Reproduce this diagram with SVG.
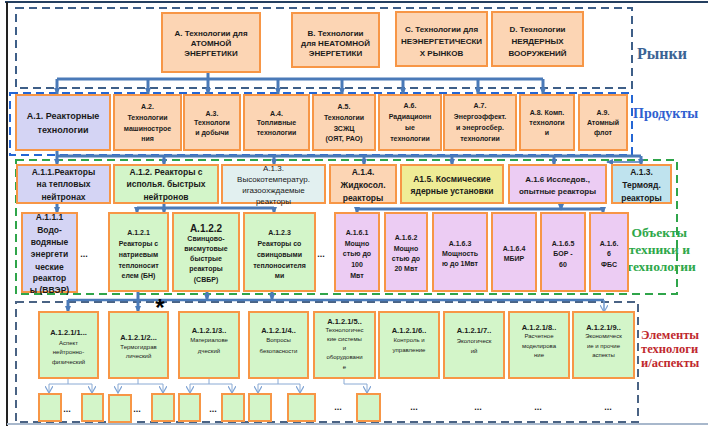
<svg xmlns="http://www.w3.org/2000/svg" width="708" height="426" viewBox="0 0 708 426">
  <defs>
    <marker id="ah" viewBox="0 0 8 7" refX="7" refY="3.5" markerWidth="7" markerHeight="6" markerUnits="userSpaceOnUse" orient="auto">
      <path d="M0,0 L8,3.5 L0,7 Z" fill="#4a7ab8"/>
    </marker>
    <marker id="av" viewBox="0 0 8 8" refX="7" refY="4" markerWidth="8" markerHeight="8" markerUnits="userSpaceOnUse" orient="auto">
      <path d="M0,0 L7,4 L0,8" fill="none" stroke="#7fa3d3" stroke-width="1.2"/>
    </marker>
  </defs>
  <style>
    .bx{stroke:#f79646;stroke-width:2}
    .pe{fill:#fcd5b4}.lv{fill:#d4d4f4}.gr{fill:#d3f5c9}.mi{fill:#e2f0f0}
    .ye{fill:#efec96}.pk{fill:#ecccf3}.lb{fill:#bfe3ee}
    .zone{fill:none;stroke-width:2;stroke-dasharray:8 5}
    text{font-family:"Liberation Sans",Arial,sans-serif;fill:#1a1a1a;text-anchor:middle}
    .b8{font-size:8px;font-weight:bold}
    .b85{font-size:8.5px;font-weight:bold}
    .b9{font-size:9px;font-weight:bold}
    .b7{font-size:7px;font-weight:bold}
    .b75{font-size:7.5px;font-weight:bold}
    .b10{font-size:10px;font-weight:bold}
    .r8{font-size:8px}
    .r6{font-size:6px}
    .dots{font-size:9px;font-weight:bold}
    .lbl{font-family:"Liberation Serif","Times New Roman",serif;font-weight:bold}
    .cn path{fill:none;stroke:#4a7ab8;stroke-width:3}
    .cn path.tip{marker-end:url(#ah)}
    .thin path{fill:none;stroke:#8aaad4;stroke-width:1}
    .thin path.tip{marker-end:url(#av)}
  </style>

  <!-- page frame -->
  <path d="M5 2 H708" stroke="#243f60" stroke-width="2"/>
  <path d="M7 2 V426" stroke="#222" stroke-width="2"/>
  <path d="M7 424 H708" stroke="#a8b8cc" stroke-width="2"/>

  <!-- level zones -->
  <rect class="zone" x="16" y="8" width="616" height="80" stroke="#3e5f88"/>
  <rect class="zone" x="10" y="93" width="622" height="62" stroke="#2466d4"/>
  <rect class="zone" x="16" y="160" width="661" height="134" stroke="#2fa54a"/>
  <rect class="zone" x="16" y="302" width="622" height="120" stroke="#4a6384"/>

  <!-- level captions -->
  <text class="lbl" x="637" y="59" font-size="16" fill="#3a6394" style="text-anchor:start;fill:#3a6394">Рынки</text>
  <text class="lbl" x="633" y="118" font-size="14" style="text-anchor:start;fill:#2f5fd0">Продукты</text>
  <text class="lbl" font-size="13.5" style="fill:#2ea84a">
    <tspan x="661" y="237">Объекты</tspan>
    <tspan x="661" y="254">техники и</tspan>
    <tspan x="661" y="271">технологии</tspan>
  </text>
  <text class="lbl" font-size="12.5" style="text-anchor:start;fill:#c0282d">
    <tspan x="641" y="339">Элементы</tspan>
    <tspan x="641" y="353">технологи</tspan>
    <tspan x="641" y="367">и/аспекты</tspan>
  </text>

  <!-- connectors -->
  <g id="connectors">
    <g class="cn">
      <path d="M57 79 H543"/>
      <path class="tip" d="M57 79 V94"/>
      <path class="tip" d="M148 79 V94"/>
      <path class="tip" d="M208 72 V94"/>
      <path class="tip" d="M278 79 V94"/>
      <path class="tip" d="M342 79 V94"/>
      <path class="tip" d="M403 79 V94"/>
      <path class="tip" d="M478 79 V94"/>
      <path class="tip" d="M543 79 V94"/>

      <path d="M57 156 H641"/>
      <path class="tip" d="M57 150 V165"/>
      <path class="tip" d="M164 156 V165"/>
      <path class="tip" d="M274 156 V165"/>
      <path class="tip" d="M364 156 V165"/>
      <path class="tip" d="M452 156 V165"/>
      <path class="tip" d="M554 156 V165"/>
      <path class="tip" d="M641 156 V165"/>
      <path class="tip" d="M641 162 H607" style="stroke-width:1.5"/>

      <path class="tip" d="M57 203 V213"/>
      <path d="M137 208 H274 M164 203 V208"/>
      <path class="tip" d="M137 208 V213"/>
      <path class="tip" d="M164 208 V213"/>
      <path class="tip" d="M274 208 V213"/>
      <path d="M357 209 H603"/>
      <path class="tip" d="M561 203 V210"/>
      <path class="tip" d="M357 209 V213"/>
      <path class="tip" d="M603 209 V213"/>

      <path d="M68 300 H604" style="stroke-width:2.5"/>
      <path class="tip" d="M138 291 V312"/>
      <path class="tip" d="M207 291 V300"/>
      <path class="tip" d="M272 291 V300"/>
      <path class="tip" d="M68 300 V312"/>
    </g>
    <g class="thin">
      <path class="tip" d="M604 300 V312" style="stroke:#6f98cf;stroke-width:1.5"/>
      <path d="M68 378 V384 M49 384 H92"/>
      <path class="tip" d="M49 384 V393"/>
      <path class="tip" d="M92 384 V393"/>
      <path d="M138 378 V384 M118 384 H163"/>
      <path class="tip" d="M118 384 V393"/>
      <path class="tip" d="M163 384 V393"/>
      <path d="M209 378 V384 M190 384 H232"/>
      <path class="tip" d="M190 384 V393"/>
      <path class="tip" d="M232 384 V393"/>
      <path d="M278 378 V384 M258 384 H300"/>
      <path class="tip" d="M258 384 V393"/>
      <path class="tip" d="M300 384 V393"/>
      <path d="M344 378 V384 H367"/>
      <path class="tip" d="M367 384 V393"/>
    </g>
  </g>

  <!-- markets -->
  <g id="mA"><rect class="bx pe" x="162" y="13" width="98" height="59"/>
    <text class="b8"><tspan x="211" y="36">А. Технологии для</tspan><tspan x="211" y="46">АТОМНОЙ</tspan><tspan x="211" y="56">ЭНЕРГЕТИКИ</tspan></text></g>
  <g id="mB"><rect class="bx pe" x="292" y="13" width="87" height="54"/>
    <text class="b8"><tspan x="335.5" y="36">В. Технологии</tspan><tspan x="335.5" y="46">для НЕАТОМНОЙ</tspan><tspan x="335.5" y="56">ЭНЕРГЕТИКИ</tspan></text></g>
  <g id="mC"><rect class="bx pe" x="396" y="12" width="91" height="54"/>
    <text class="b8"><tspan x="441.5" y="32">С. Технологии для</tspan><tspan x="441.5" y="44">НЕЭНЕРГЕТИЧЕСКИ</tspan><tspan x="441.5" y="56">Х РЫНКОВ</tspan></text></g>
  <g id="mD"><rect class="bx pe" x="492" y="12" width="91" height="54"/>
    <text class="b8"><tspan x="537.5" y="32">D. Технологии</tspan><tspan x="537.5" y="44">НЕЯДЕРНЫХ</tspan><tspan x="537.5" y="56">ВООРУЖЕНИЙ</tspan></text></g>

  <!-- products -->
  <g id="pA1"><rect class="bx lv" x="16" y="95" width="94" height="55"/>
    <text class="b9"><tspan x="63" y="119">А.1. Реакторные</tspan><tspan x="63" y="133">технологии</tspan></text></g>
  <g id="pA2"><rect class="bx pe" x="114" y="95" width="67" height="55"/>
    <text class="b7"><tspan x="147.5" y="108.5">А.2.</tspan><tspan x="147.5" y="119.5">Технологии</tspan><tspan x="147.5" y="130.5">машиностроe</tspan><tspan x="147.5" y="140.5">ния</tspan></text></g>
  <g id="pA3"><rect class="bx pe" x="184" y="95" width="56" height="55"/>
    <text class="b7"><tspan x="212" y="115.5">А.3.</tspan><tspan x="212" y="125">Технологи</tspan><tspan x="212" y="134.5">и добычи</tspan></text></g>
  <g id="pA4"><rect class="bx pe" x="244" y="95" width="65" height="55"/>
    <text class="b7"><tspan x="276.5" y="115.5">А.4.</tspan><tspan x="276.5" y="125">Топливные</tspan><tspan x="276.5" y="134.5">технологии</tspan></text></g>
  <g id="pA5"><rect class="bx pe" x="313" y="95" width="62" height="55"/>
    <text class="b7"><tspan x="344" y="108.5">А.5.</tspan><tspan x="344" y="119.5">Технологии</tspan><tspan x="344" y="130.5">ЗСЖЦ</tspan><tspan x="344" y="140.5">(ОЯТ, РАО)</tspan></text></g>
  <g id="pA6"><rect class="bx pe" x="379" y="95" width="62" height="55"/>
    <text class="b7"><tspan x="410" y="107.5">А.6.</tspan><tspan x="410" y="118.5">Радиационн</tspan><tspan x="410" y="129.5">ые</tspan><tspan x="410" y="140.5">технологии</tspan></text></g>
  <g id="pA7"><rect class="bx pe" x="444" y="95" width="72" height="55"/>
    <text class="b7"><tspan x="480" y="107.5">А.7.</tspan><tspan x="480" y="118.5">Энергоэффект.</tspan><tspan x="480" y="129.5">и энергосбер.</tspan><tspan x="480" y="140.5">технологии</tspan></text></g>
  <g id="pA8"><rect class="bx pe" x="520" y="95" width="54" height="55"/>
    <text class="b7"><tspan x="547" y="114.5">А.8. Комп.</tspan><tspan x="547" y="124.5">технологи</tspan><tspan x="547" y="134.5">и</tspan></text></g>
  <g id="pA9"><rect class="bx pe" x="579" y="95" width="48" height="55"/>
    <text class="b7"><tspan x="603" y="114.5">А.9.</tspan><tspan x="603" y="124.5">Атомный</tspan><tspan x="603" y="134.5">флот</tspan></text></g>

  <!-- reactor directions -->
  <g id="oA11"><rect class="bx lv" x="17" y="165" width="93" height="38"/>
    <text class="b85"><tspan x="63.5" y="175">А.1.1.Реакторы</tspan><tspan x="63.5" y="187">на тепловых</tspan><tspan x="63.5" y="200">нейтронах</tspan></text></g>
  <g id="oA12"><rect class="bx gr" x="114" y="165" width="104" height="38"/>
    <text class="b85"><tspan x="166" y="175">А.1.2. Реакторы с</tspan><tspan x="166" y="187">исполья. быстрых</tspan><tspan x="166" y="200">нейтронов</tspan></text></g>
  <g id="oA13"><rect class="bx mi" x="222" y="165" width="103" height="38"/>
    <text class="r8"><tspan x="273.5" y="170.5">А.1.3.</tspan><tspan x="273.5" y="182">Высокотемператур.</tspan><tspan x="273.5" y="192.5">игазоохждаемые</tspan><tspan x="273.5" y="204">реакторы</tspan></text></g>
  <g id="oA14"><rect class="bx pe" x="330" y="165" width="66" height="38"/>
    <text class="b85"><tspan x="363" y="175">А.1.4.</tspan><tspan x="363" y="188">Жидкосол.</tspan><tspan x="363" y="201">реакторы</tspan></text></g>
  <g id="oA15"><rect class="bx ye" x="401" y="165" width="102" height="38"/>
    <text class="b85"><tspan x="452" y="182">А1.5. Космические</tspan><tspan x="452" y="194">ядерные установки</tspan></text></g>
  <g id="oA16"><rect class="bx pk" x="509" y="165" width="97" height="38"/>
    <text class="b8"><tspan x="557.5" y="182">А.1.6 Исследов.,</tspan><tspan x="557.5" y="194">опытные реакторы</tspan></text></g>
  <g id="oA13t"><rect class="bx lb" x="612" y="165" width="59" height="38"/>
    <text class="b85"><tspan x="641.5" y="175">А.1.3.</tspan><tspan x="641.5" y="188">Термояд.</tspan><tspan x="641.5" y="201">реакторы</tspan></text></g>

  <!-- reactor types -->
  <g id="oA111"><rect class="bx lv" x="22" y="213" width="55" height="79"/>
    <text class="b85"><tspan x="49.5" y="220">А.1.1.1</tspan><tspan x="49.5" y="233">Водо-</tspan><tspan x="49.5" y="245">водяные</tspan><tspan x="49.5" y="257">энергети</tspan><tspan x="49.5" y="269.5">ческие</tspan><tspan x="49.5" y="281">реактор</tspan><tspan x="49.5" y="293">ы (ВВЭР)</tspan></text></g>
  <text class="dots" x="84" y="257">...</text>
  <g id="oA121"><rect class="bx gr" x="109" y="213" width="59" height="78"/>
    <text class="b7"><tspan x="138.5" y="234.5">А.1.2.1</tspan><tspan x="138.5" y="245.5">Реакторы с</tspan><tspan x="138.5" y="256.5">натриевым</tspan><tspan x="138.5" y="267.5">теплоносит</tspan><tspan x="138.5" y="278">елем (БН)</tspan></text></g>
  <g id="oA122"><rect class="bx gr" x="173" y="213" width="66" height="78"/>
    <text class="b10" x="206" y="231.5">А.1.2.2</text>
    <text class="b7"><tspan x="206" y="240.5">Свинцово-</tspan><tspan x="206" y="250.5">висмутовые</tspan><tspan x="206" y="260.5">быстрые</tspan><tspan x="206" y="270.5">реакторы</tspan><tspan x="206" y="281.5">(СВБР)</tspan></text></g>
  <g id="oA123"><rect class="bx gr" x="244" y="213" width="71" height="78"/>
    <text class="b7"><tspan x="279.5" y="234.5">А.1.2.3</tspan><tspan x="279.5" y="245.5">Реакторы со</tspan><tspan x="279.5" y="256.5">свинцовыми</tspan><tspan x="279.5" y="267.5">теплоносителя</tspan><tspan x="279.5" y="278">ми</tspan></text></g>
  <text class="dots" x="321" y="257">...</text>
  <g id="oA161"><rect class="bx pk" x="335" y="213" width="44" height="78"/>
    <text class="b7"><tspan x="357" y="234.5">А.1.6.1</tspan><tspan x="357" y="245.5">Мощно</tspan><tspan x="357" y="255.5">стью до</tspan><tspan x="357" y="266.5">100</tspan><tspan x="357" y="277.5">Мвт</tspan></text></g>
  <g id="oA162"><rect class="bx pk" x="385" y="213" width="42" height="78"/>
    <text class="b7"><tspan x="406" y="239.5">А.1.6.2</tspan><tspan x="406" y="250.5">Мощно</tspan><tspan x="406" y="260.5">стью до</tspan><tspan x="406" y="270.5">20 Мвт</tspan></text></g>
  <g id="oA163"><rect class="bx pk" x="433" y="213" width="54" height="78"/>
    <text class="b7"><tspan x="460" y="245.5">А.1.6.3</tspan><tspan x="460" y="255.5">Мощность</tspan><tspan x="460" y="265.5">ю до 1Мвт</tspan></text></g>
  <g id="oA164"><rect class="bx pk" x="492" y="213" width="44" height="78"/>
    <text class="b7"><tspan x="514" y="250.5">А.1.6.4</tspan><tspan x="514" y="260.5">МБИР</tspan></text></g>
  <g id="oA165"><rect class="bx pk" x="541" y="213" width="44" height="78"/>
    <text class="b7"><tspan x="563" y="245.5">А.1.6.5</tspan><tspan x="563" y="255.5">БОР -</tspan><tspan x="563" y="266.5">60</tspan></text></g>
  <g id="oA166"><rect class="bx pk" x="590" y="213" width="38" height="78"/>
    <text class="b7"><tspan x="609" y="245.5">А.1.6.</tspan><tspan x="609" y="255.5">6</tspan><tspan x="609" y="266.5">ФБС</tspan></text></g>

  <text x="160" y="316" style="font-size:24px;font-weight:bold;fill:#000">*</text>

  <!-- technology aspects -->
  <g id="e1"><rect class="bx gr" x="39" y="312" width="59" height="66"/>
    <text class="b75" x="68.5" y="334.5">А.1.2.1/1...</text>
    <text class="r6"><tspan x="68.5" y="345">Аспект</tspan><tspan x="68.5" y="354">нейтронно-</tspan><tspan x="68.5" y="364">физический</tspan></text></g>
  <g id="e2"><rect class="bx gr" x="109" y="312" width="59" height="66"/>
    <text class="b75" x="138.5" y="339.5">А.1.2.1/2...</text>
    <text class="r6"><tspan x="138.5" y="349">Термогидрав</tspan><tspan x="138.5" y="358">лический</tspan></text></g>
  <g id="e3"><rect class="bx gr" x="179" y="312" width="60" height="66"/>
    <text class="b75" x="209" y="332.5">А.1.2.1/3..</text>
    <text class="r6"><tspan x="209" y="342">Материалове</tspan><tspan x="209" y="353">дческий</tspan></text></g>
  <g id="e4"><rect class="bx gr" x="249" y="312" width="59" height="66"/>
    <text class="b75" x="278.5" y="332.5">А.1.2.1/4..</text>
    <text class="r6"><tspan x="278.5" y="342">Вопросы</tspan><tspan x="278.5" y="353">безопасности</tspan></text></g>
  <g id="e5"><rect class="bx gr" x="314" y="312" width="61" height="66"/>
    <text class="b75" x="344.5" y="323.5">А.1.2.1/5..</text>
    <text class="r6"><tspan x="344.5" y="332">Технологичес</tspan><tspan x="344.5" y="341">кие системы</tspan><tspan x="344.5" y="350">и</tspan><tspan x="344.5" y="359">оборудовани</tspan><tspan x="344.5" y="369">е</tspan></text></g>
  <g id="e6"><rect class="bx gr" x="379" y="312" width="60" height="66"/>
    <text class="b75" x="409" y="332.5">А.1.2.1/6..</text>
    <text class="r6"><tspan x="409" y="342">Контроль и</tspan><tspan x="409" y="352">управление</tspan></text></g>
  <g id="e7"><rect class="bx gr" x="444" y="312" width="60" height="66"/>
    <text class="b75" x="474" y="332.5">А.1.2.1/7..</text>
    <text class="r6"><tspan x="474" y="343">Экологическ</tspan><tspan x="474" y="353">ий</tspan></text></g>
  <g id="e8"><rect class="bx gr" x="509" y="312" width="60" height="66"/>
    <text class="b75" x="539" y="329.5">А.1.2.1/8..</text>
    <text class="r6"><tspan x="539" y="338">Расчетное</tspan><tspan x="539" y="348">моделирова</tspan><tspan x="539" y="357">ние</tspan></text></g>
  <g id="e9"><rect class="bx gr" x="573" y="312" width="61" height="66"/>
    <text class="b75" x="603.5" y="329.5">А.1.2.1/9..</text>
    <text class="r6"><tspan x="603.5" y="338">Экономическ</tspan><tspan x="603.5" y="348">ие и прочие</tspan><tspan x="603.5" y="357">аспекты</tspan></text></g>

  <!-- sub-elements -->
  <g id="s1a"><rect class="bx gr" x="39" y="394" width="22" height="27"/></g>
  <g id="s1b"><rect class="bx gr" x="82" y="394" width="21" height="27"/></g>
  <g id="s2a"><rect class="bx gr" x="109" y="395" width="22" height="27"/></g>
  <g id="s2b"><rect class="bx gr" x="152" y="394" width="22" height="27"/></g>
  <g id="s3a"><rect class="bx gr" x="179" y="394" width="21" height="27"/></g>
  <g id="s3b"><rect class="bx gr" x="222" y="394" width="22" height="27"/></g>
  <g id="s4a"><rect class="bx gr" x="249" y="394" width="22" height="27"/></g>
  <g id="s4b"><rect class="bx gr" x="288" y="394" width="27" height="27"/></g>
  <g id="s5a"><rect class="bx gr" x="357" y="394" width="23" height="27"/></g>
  <g class="dots">
    <text x="67" y="412">...</text>
    <text x="137" y="412">...</text>
    <text x="213" y="412">...</text>
    <text x="338" y="410">...</text>
    <text x="414" y="410">...</text>
    <text x="478" y="410">...</text>
    <text x="538" y="410">...</text>
    <text x="608" y="410">...</text>
  </g>
</svg>
